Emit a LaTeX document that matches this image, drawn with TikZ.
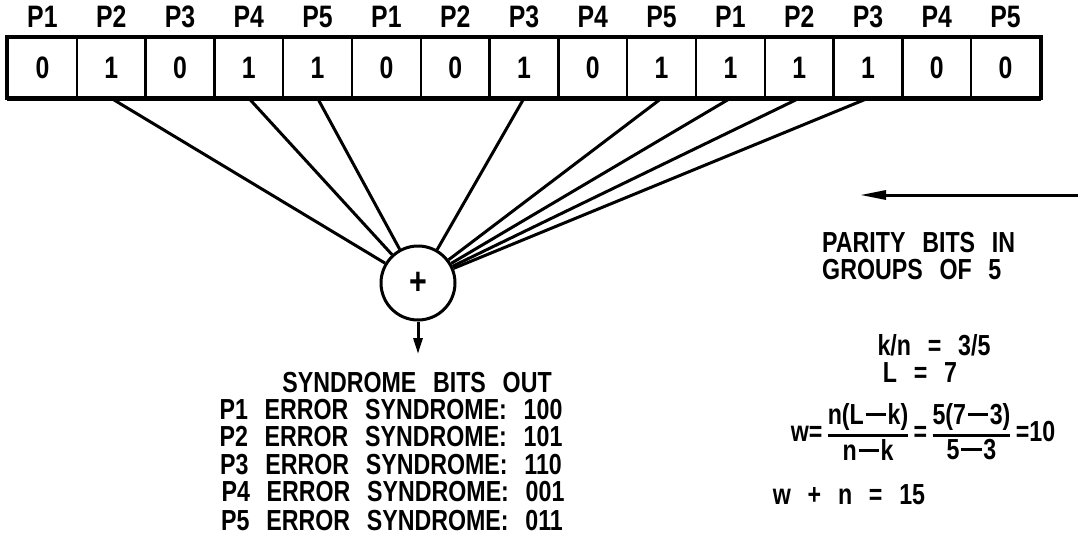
\documentclass[tikz,border=0pt]{standalone}
\usepackage{amsmath}
\usepackage{fontspec}
\setmainfont[FakeStretch=0.8, WordSpace=2.6]{Liberation Sans}
\usetikzlibrary{arrows.meta,calc}
\tikzset{
  cell/.style={draw, line width=2.5pt, minimum width=68.8pt, minimum height=59pt, inner sep=0pt},
  lbl/.style={inner sep=0pt},
  txt/.style={inner sep=0pt, font=\fontsize{29}{27}\selectfont\bfseries},
  fan/.style={line width=3pt},
}
\newcommand{\mn}{\hspace{0.06em}\rule[0.3em]{0.7em}{0.09em}\hspace{0.06em}}
\begin{document}
\begin{tikzpicture}[x=1pt,y=-1pt, font=\fontsize{31}{27}\selectfont\bfseries]
\useasboundingbox (0,0) rectangle (1081,552);
% cells
\foreach \b [count=\i] in {0,1,0,1,1,0,0,1,0,1,1,1,1,0,0} {
  \pgfmathtruncatemacro\p{mod(\i-1,5)+1}
  \node[cell] (c\i) at ({8+68.8*(\i-0.5)},67.5) {\b};
  \path (c\i.north) ++(0,-20) node[lbl] (l\i) {P\p};
}
\draw[line width=4pt] (c1.north west) rectangle (c15.south east);
\draw[line width=5pt] (c1.south west) -- (c15.south east);
% adder
\node[circle, draw, line width=3pt, minimum size=74pt, inner sep=0pt, font=\fontsize{38}{38}\selectfont\bfseries] (xor) at (418,283) {+};
\foreach \i in {2,4,5,8,10,11,12,13} \draw[fan] (c\i.south) -- (xor);
\coordinate (out) at (418,354);
\draw[line width=3pt, -{Triangle[length=16pt,width=9pt]}] (xor) -- (out);
% syndrome text
\node[txt] (syn) at (417,383) {SYNDROME BITS OUT};
\node[txt] (e1) at (391,410) {P1 ERROR SYNDROME: 100};
\node[txt] (e2) at (391,437) {P2 ERROR SYNDROME: 101};
\node[txt] (e3) at (391,465) {P3 ERROR SYNDROME: 110};
\node[txt] (e4) at (393,492) {P4 ERROR SYNDROME: 001};
\node[txt] (e5) at (392,521) {P5 ERROR SYNDROME: 011};
% right side
\coordinate (ar1) at (1078,195);
\coordinate (ar2) at (860,195);
\draw[line width=3pt, -{Triangle[length=26pt,width=9pt]}] (ar1) -- (ar2);
\node[txt, anchor=west] (par1) at (822,243) {PARITY BITS IN};
\node[txt, anchor=west] (par2) at (822,270) {GROUPS OF 5};
\node[txt] (kn) at (934,345) {k/n = 3/5};
\node[txt] (L) at (920,373) {L = 7};
\node[txt] (w) at (923,432) {$\mbox{w=}\,\genfrac{}{}{3pt}{1}{\mbox{n(L\mn k)}}{\mbox{n\mn k}}\,\mbox{=}\,\genfrac{}{}{3pt}{1}{\mbox{5(7\mn 3)}}{\mbox{5\mn 3}}\,\mbox{=10}$};
\node[txt] (wn) at (849,495) {w + n = 15};
\end{tikzpicture}
\end{document}
